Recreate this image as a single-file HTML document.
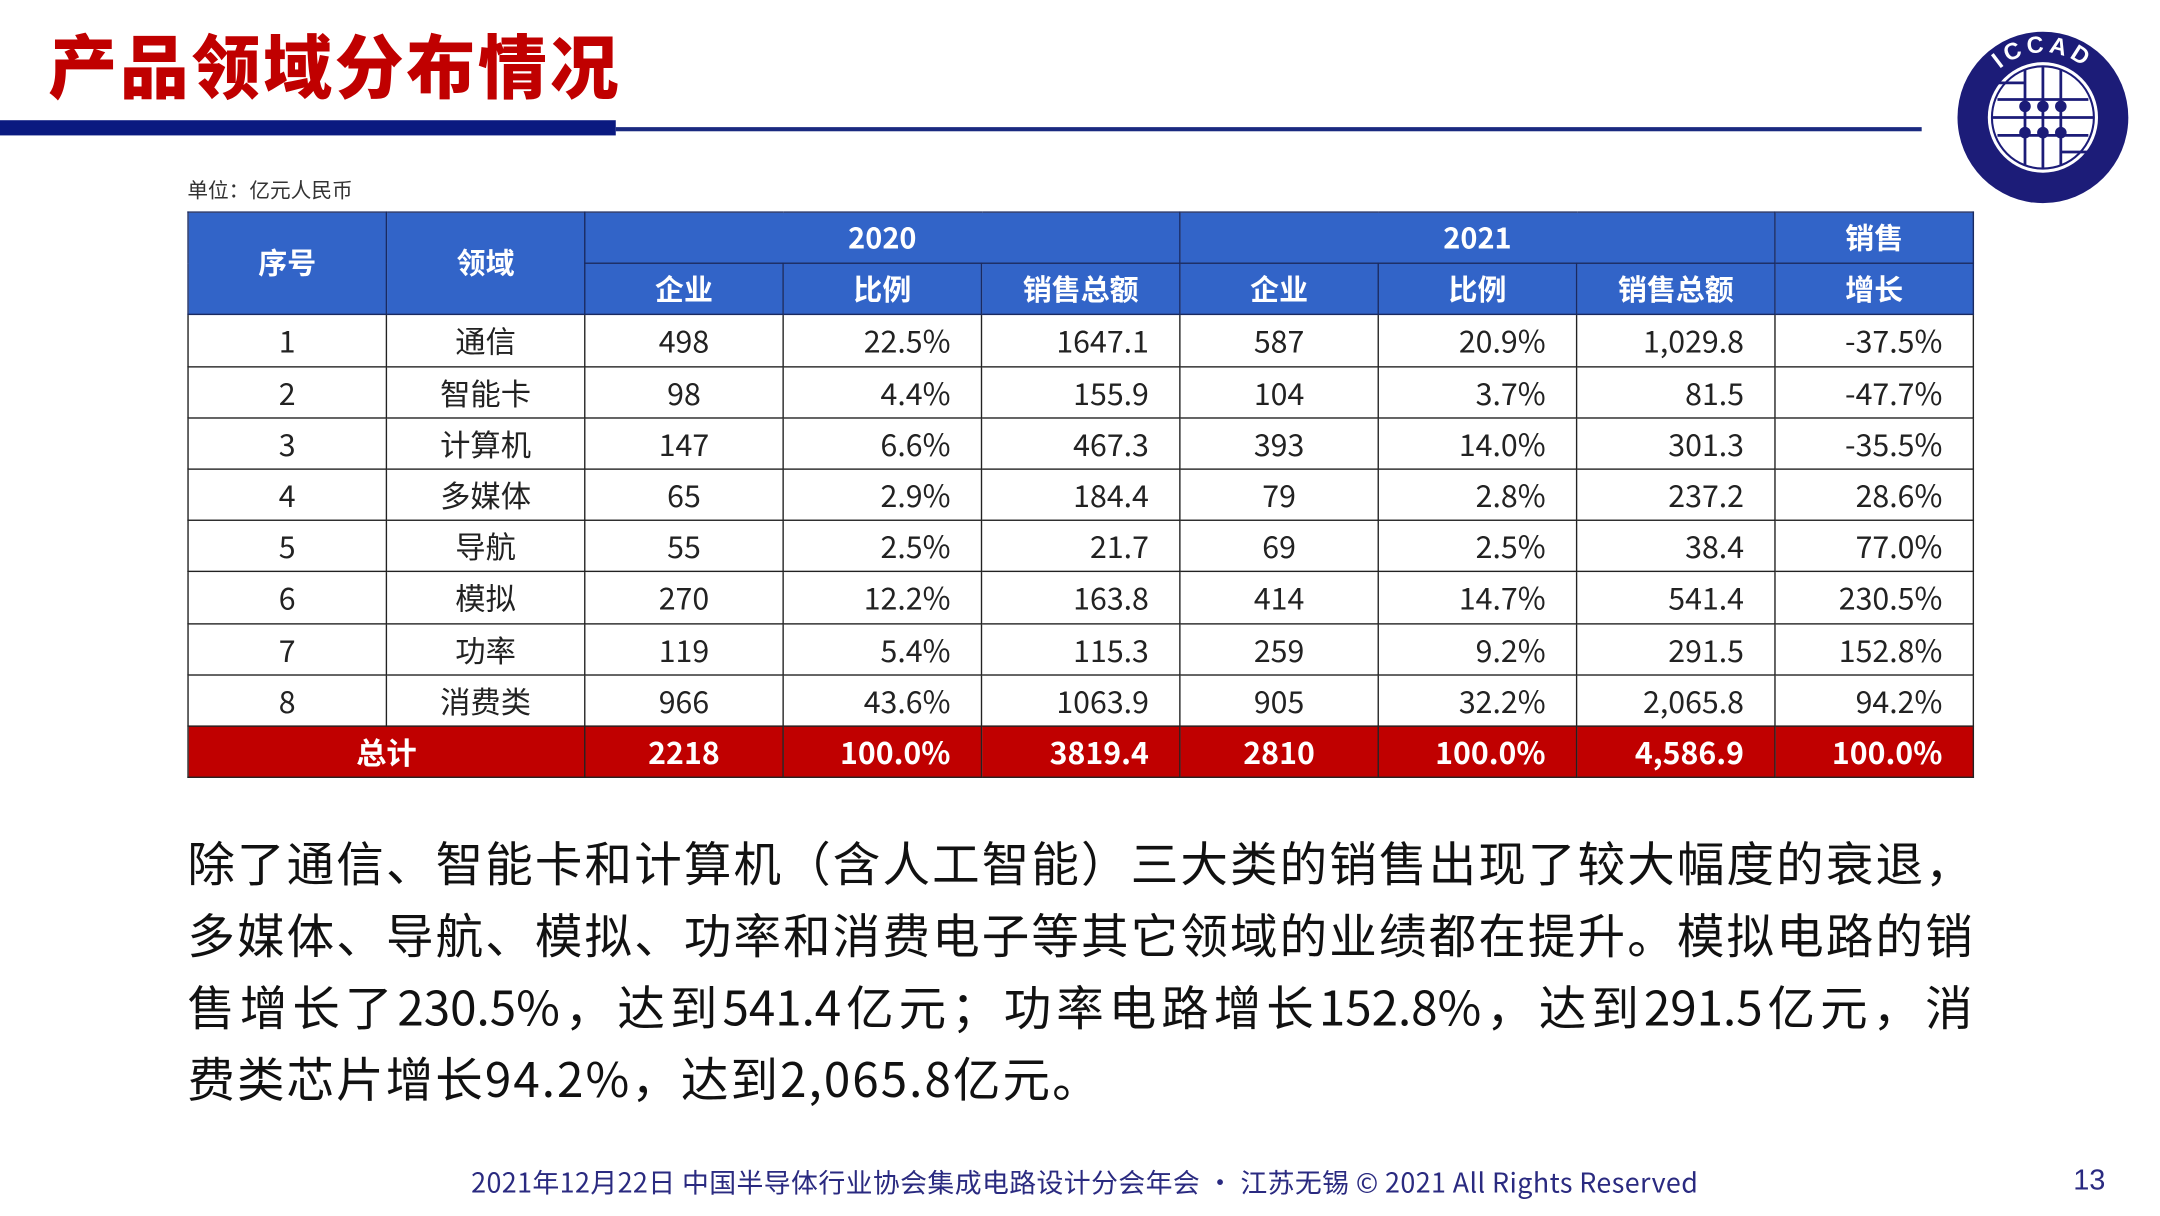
<!DOCTYPE html>
<html><head><meta charset="utf-8">
<style>
html,body{margin:0;padding:0;background:#fff;}
body{width:2160px;height:1216px;overflow:hidden;position:relative;}
#s{position:absolute;left:0;top:0;width:1568px;height:880px;transform-origin:0 0;transform:scale(1.37755,1.3818);font-family:"Liberation Sans","Noto Sans CJK SC",sans-serif;}
.a{position:absolute;white-space:nowrap;}
table{position:absolute;left:136px;top:153px;width:1297px;border-collapse:collapse;table-layout:fixed;font-family:"Noto Sans CJK SC",sans-serif;}
td{border:1.5px solid #222;height:36.2px;padding:0 22px 0 10px;font-size:22px;color:#222;text-align:center;line-height:1;}
td.c{padding:0 10px;}
td.r{text-align:right;}
tr.h td{background:#3264c8;color:#fff;font-weight:bold;font-size:21px;border-color:#1a2a60;padding:0 10px;}
tr.t td{background:#c00000;color:#fff;font-weight:bold;font-size:22px;}
.p{position:absolute;left:136px;width:1296px;font-family:"Noto Sans CJK SC",sans-serif;font-size:34.5px;color:#111;text-align:justify;text-align-last:justify;white-space:nowrap;line-height:52px;}
</style></head><body>
<div id="s">
<div class="a" style="left:35px;top:14px;font-size:50px;font-weight:900;color:#c00000;font-family:'Noto Sans CJK SC',sans-serif;letter-spacing:2px;line-height:64px;">产品领域分布情况</div>
<div class="a" style="left:0;top:87px;width:447px;height:11px;background:#0a1a80;"></div>
<div class="a" style="left:447px;top:92px;width:948px;height:2.5px;background:#1a2a80;"></div>
<svg class="a" style="left:1418px;top:20px" width="130" height="130" viewBox="0 0 130 130">
<defs><path id="arc" d="M 18 65 A 47 47 0 0 1 112 65"/></defs>
<circle cx="65" cy="65" r="62" fill="#1c1c78"/>
<circle cx="65" cy="65" r="40" fill="#fff"/>
<circle cx="65" cy="65" r="37" fill="none" stroke="#1c1c78" stroke-width="1.5"/>
<g stroke="#1c1c78" stroke-width="2" fill="#1c1c78">
<line x1="52" y1="30" x2="52" y2="100"/><line x1="65" y1="28" x2="65" y2="102"/><line x1="78" y1="30" x2="78" y2="100"/>
<line x1="32" y1="52" x2="98" y2="52"/><line x1="28" y1="65" x2="102" y2="65"/><line x1="32" y1="78" x2="98" y2="78"/>
<line x1="30" y1="40" x2="52" y2="40"/><line x1="78" y1="90" x2="98" y2="90"/>
<circle cx="52" cy="57" r="3.2"/><circle cx="65" cy="57" r="3.2"/><circle cx="78" cy="57" r="3.2"/>
<circle cx="52" cy="76" r="3.2"/><circle cx="65" cy="76" r="3.2"/><circle cx="78" cy="76" r="3.2"/>
</g>
<text fill="#fff" font-size="17" font-weight="bold" font-family="Liberation Sans" letter-spacing="3"><textPath href="#arc" startOffset="50%" text-anchor="middle">ICCAD</textPath></text>
</svg>
<div class="a" style="left:136px;top:127px;font-size:15px;color:#333;font-family:'Noto Sans CJK SC',sans-serif;">单位：亿元人民币</div>
<table>
<colgroup><col span="9" style="width:144px"></colgroup>
<tr class="h"><td rowspan="2">序号</td><td rowspan="2">领域</td><td colspan="3">2020</td><td colspan="3">2021</td><td>销售</td></tr>
<tr class="h"><td>企业</td><td>比例</td><td>销售总额</td><td>企业</td><td>比例</td><td>销售总额</td><td>增长</td></tr>
<tr><td class="c">1</td><td class="c">通信</td><td class="c">498</td><td class="r">22.5%</td><td class="r">1647.1</td><td class="c">587</td><td class="r">20.9%</td><td class="r">1,029.8</td><td class="r">-37.5%</td></tr>
<tr><td class="c">2</td><td class="c">智能卡</td><td class="c">98</td><td class="r">4.4%</td><td class="r">155.9</td><td class="c">104</td><td class="r">3.7%</td><td class="r">81.5</td><td class="r">-47.7%</td></tr>
<tr><td class="c">3</td><td class="c">计算机</td><td class="c">147</td><td class="r">6.6%</td><td class="r">467.3</td><td class="c">393</td><td class="r">14.0%</td><td class="r">301.3</td><td class="r">-35.5%</td></tr>
<tr><td class="c">4</td><td class="c">多媒体</td><td class="c">65</td><td class="r">2.9%</td><td class="r">184.4</td><td class="c">79</td><td class="r">2.8%</td><td class="r">237.2</td><td class="r">28.6%</td></tr>
<tr><td class="c">5</td><td class="c">导航</td><td class="c">55</td><td class="r">2.5%</td><td class="r">21.7</td><td class="c">69</td><td class="r">2.5%</td><td class="r">38.4</td><td class="r">77.0%</td></tr>
<tr><td class="c">6</td><td class="c">模拟</td><td class="c">270</td><td class="r">12.2%</td><td class="r">163.8</td><td class="c">414</td><td class="r">14.7%</td><td class="r">541.4</td><td class="r">230.5%</td></tr>
<tr><td class="c">7</td><td class="c">功率</td><td class="c">119</td><td class="r">5.4%</td><td class="r">115.3</td><td class="c">259</td><td class="r">9.2%</td><td class="r">291.5</td><td class="r">152.8%</td></tr>
<tr><td class="c">8</td><td class="c">消费类</td><td class="c">966</td><td class="r">43.6%</td><td class="r">1063.9</td><td class="c">905</td><td class="r">32.2%</td><td class="r">2,065.8</td><td class="r">94.2%</td></tr>
<tr class="t"><td colspan="2" class="c">总计</td><td class="c">2218</td><td class="r">100.0%</td><td class="r">3819.4</td><td class="c">2810</td><td class="r">100.0%</td><td class="r">4,586.9</td><td class="r">100.0%</td></tr>
</table>
<div class="p" style="top:597px;">除了通信、智能卡和计算机（含人工智能）三大类的销售出现了较大幅度的衰退，</div>
<div class="p" style="top:649px;">多媒体、导航、模拟、功率和消费电子等其它领域的业绩都在提升。模拟电路的销</div>
<div class="p" style="top:701px;">售增长了230.5%，达到541.4亿元；功率电路增长152.8%，达到291.5亿元，消</div>
<div class="p" style="top:753px;text-align-last:left;width:auto;letter-spacing:1.5px;">费类芯片增长94.2%，达到2,065.8亿元。</div>
<div class="a" style="left:342px;top:842px;font-size:19.5px;color:#2a2a80;font-family:'Noto Sans CJK SC',sans-serif;line-height:26px;letter-spacing:0.3px;">2021年12月22日 中国半导体行业协会集成电路设计分会年会 · 江苏无锡 © 2021 All Rights Reserved</div>
<div class="a" style="left:1505px;top:842px;font-size:21px;color:#2a2a80;line-height:26px;">13</div>
</div>
</body></html>
